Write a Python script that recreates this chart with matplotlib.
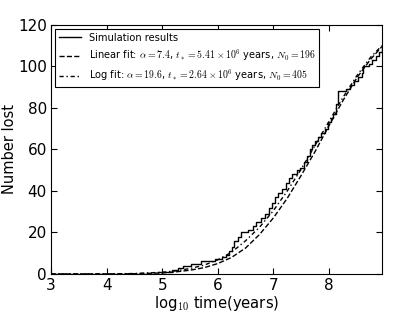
import numpy as np
import matplotlib
matplotlib.use('Agg')
import matplotlib.pyplot as plt

plt.rcParams['mathtext.fontset'] = 'cm'
plt.rcParams['xtick.direction'] = 'in'
plt.rcParams['ytick.direction'] = 'in'
plt.rcParams['xtick.top'] = True
plt.rcParams['ytick.right'] = True

# simulation (step curve): log10 time, cumulative number lost
sim_logt = [3.0, 4.92, 5.18, 5.29, 5.38, 5.52, 5.70, 5.95, 6.08, 6.15, 6.20, 6.26,
            6.30, 6.36, 6.42, 6.55, 6.64, 6.68, 6.78, 6.85, 6.92, 6.97, 7.03, 7.08,
            7.15, 7.22, 7.28, 7.33, 7.42, 7.48, 7.55, 7.60, 7.65, 7.70, 7.75, 7.80,
            7.86, 7.92, 7.98, 8.03, 8.07, 8.12, 8.16, 8.30, 8.38, 8.45, 8.53, 8.59,
            8.62, 8.72, 8.78, 8.84, 8.90, 8.95]
sim_n = [0, 1, 2, 3, 4, 5, 6, 7, 8, 9, 11, 13,
         16, 18, 20, 21, 23, 25, 27, 29, 32, 34, 37, 39,
         41, 44, 46, 48, 50, 51, 54, 57, 60, 62, 64, 66,
         68, 70, 73, 75, 77, 82, 88, 89, 91, 93, 95, 97,
         100, 101, 103, 105, 107, 110]

# fitted curves
fit_logt = [3.0, 4.0, 4.5, 5.0, 5.25, 5.5, 5.75, 6.0, 6.25, 6.5, 6.75, 7.0,
            7.25, 7.5, 7.75, 8.0, 8.25, 8.5, 8.75, 8.95]
lin_fit = [0, 0, 0.1, 0.5, 1.0, 1.8, 3.0, 5.0, 8.0, 12.5, 19, 27,
           36.5, 47.5, 59, 71.5, 83.5, 94.5, 103.5, 109.5]
log_fit = [0, 0, 0.2, 0.8, 1.5, 2.6, 4.2, 6.8, 10.5, 16, 22.5, 30.5,
           40, 50.5, 62, 73.5, 85, 95.5, 104.5, 110]

fig = plt.figure(figsize=(4.15, 3.12), dpi=100)
ax = fig.add_axes([0.123, 0.122, 0.797, 0.798])

ax.plot(sim_logt, sim_n, 'k-', lw=1, drawstyle='steps-post', label='Simulation results')
ax.plot(fit_logt, lin_fit, 'k--', lw=1,
        label=r'Linear fit: $\alpha=7.4$, $t_*=5.41\times10^6$ years, $N_0=196$')
ax.plot(fit_logt, log_fit, 'k', lw=1, dashes=(3, 2, 1, 2),
        label=r'Log fit: $\alpha=19.6$, $t_*=2.64\times10^6$ years, $N_0=405$')

ax.set_xlim(3, 8.95)
ax.set_ylim(0, 120)
ax.set_xticks([3, 4, 5, 6, 7, 8])
ax.set_yticks([0, 20, 40, 60, 80, 100, 120])
ax.tick_params(labelsize=11, length=4, width=0.8, pad=3)
ax.set_xlabel(r'log$_{10}$ time(years)', fontsize=10.6, labelpad=1)
ax.set_ylabel('Number lost', fontsize=10.5, labelpad=1)

leg = ax.legend(loc='upper left', fontsize=7.1, handlelength=2.2, borderaxespad=0.4,
                fancybox=False, framealpha=1, edgecolor='k')
leg.get_frame().set_linewidth(0.8)

fig.savefig('out.png', dpi=100)
